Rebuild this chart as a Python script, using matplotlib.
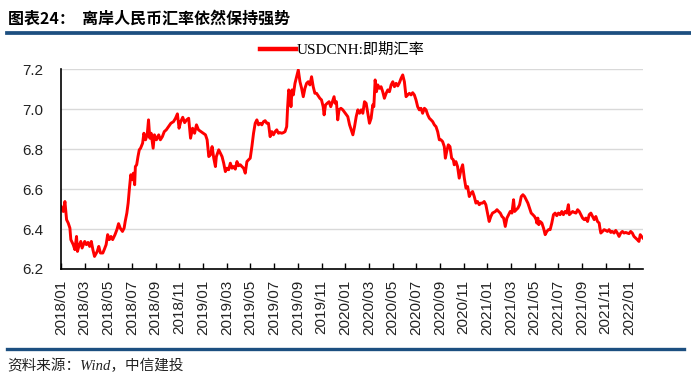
import numpy as np
import matplotlib
matplotlib.use('Agg')
import matplotlib.pyplot as plt
from matplotlib.lines import Line2D

# months since 2018/01
months = [
    0.00, 0.19, 0.33, 0.47, 0.61, 0.75, 0.83, 1.03, 1.17, 1.31, 1.39, 1.50, 1.67, 1.78,
    2.00, 2.14, 2.28, 2.42, 2.56, 2.69, 2.83, 3.06, 3.19, 3.33, 3.53, 3.67, 3.81, 3.94,
    4.08, 4.22, 4.36, 4.56, 4.72, 4.86, 5.00, 5.19, 5.33, 5.42, 5.56, 5.67, 5.78, 5.89,
    6.00, 6.11, 6.22, 6.28, 6.39, 6.50, 6.61, 6.72, 6.89, 7.00, 7.14, 7.28, 7.39, 7.50,
    7.61, 7.78, 7.89, 8.06, 8.25, 8.39, 8.56, 8.72, 8.89, 9.08, 9.28, 9.50, 9.67, 9.83,
    9.97, 10.11, 10.28, 10.44, 10.61, 10.78, 10.94, 11.11, 11.28, 11.44, 11.61,
    12.20, 12.34, 12.48, 12.62, 12.76, 12.90, 13.04, 13.12, 13.32, 13.46, 13.60, 13.74,
    13.88, 14.02, 14.16, 14.30, 14.44, 14.58, 14.72, 14.86, 15.00, 15.14, 15.28, 15.42,
    15.56, 15.70, 15.84, 15.98, 16.12, 16.26, 16.40, 16.54, 16.68, 16.82, 16.96, 17.10,
    17.24, 17.38, 17.52, 17.66, 17.80, 17.94, 18.08, 18.22, 18.36, 18.50, 18.64, 18.78,
    18.92, 19.06, 19.14, 19.23, 19.34, 19.42, 19.51, 19.62, 19.76, 19.90, 20.04, 20.18,
    20.32, 20.46, 20.60, 20.74, 20.88, 21.02, 21.16, 21.30, 21.44, 21.58, 21.72, 21.86,
    22.00, 22.14, 22.22, 22.34, 22.48, 22.64, 22.78, 22.92, 23.06, 23.15, 23.26, 23.37,
    23.48, 23.64, 23.80,
    24.22, 24.37, 24.51, 24.65, 24.79, 24.93, 25.07, 25.21, 25.35, 25.49, 25.63, 25.77,
    25.91, 26.05, 26.19, 26.33, 26.42, 26.53, 26.64, 26.75, 26.89, 27.03, 27.17, 27.31,
    27.46, 27.60, 27.74, 27.88, 28.02, 28.16, 28.30, 28.44, 28.58, 28.72, 28.86, 29.00,
    29.14, 29.28, 29.42, 29.56, 29.70, 29.84, 29.98, 30.12, 30.26, 30.40, 30.54, 30.69,
    30.83, 30.97, 31.11, 31.25, 31.39, 31.53, 31.67, 31.81, 31.95, 32.09, 32.23, 32.37,
    32.46, 32.57, 32.71, 32.85, 32.99, 33.13, 33.21, 33.35, 33.49, 33.63, 33.78, 33.92,
    34.06, 34.20, 34.34, 34.48, 34.62, 34.76, 34.90, 35.04, 35.18, 35.32, 35.46, 35.60,
    35.74, 35.88, 36.02, 36.16, 36.30, 36.44,
    36.68, 36.82, 36.96, 37.10, 37.24, 37.38, 37.52, 37.66, 37.80, 37.94, 38.08, 38.22,
    38.31, 38.45, 38.59, 38.73, 38.87, 39.01, 39.15, 39.29, 39.43, 39.57, 39.71, 39.85,
    39.99, 40.13, 40.18, 40.27, 40.35, 40.46, 40.61, 40.75, 40.89, 41.03, 41.17, 41.31,
    41.45, 41.59, 41.73, 41.87, 42.01, 42.15, 42.29, 42.43, 42.57, 42.71, 42.85, 42.93,
    43.07, 43.21, 43.35, 43.49, 43.63, 43.77, 43.91, 44.05, 44.19, 44.33, 44.47, 44.61,
    44.75, 44.89, 45.03, 45.17, 45.31, 45.45, 45.51, 45.59, 45.73, 45.87, 46.01, 46.15,
    46.29, 46.43, 46.57, 46.71, 46.85, 46.99, 47.13, 47.27, 47.41, 47.55, 47.69, 47.83,
    47.97, 48.11, 48.25, 48.39, 48.53, 48.67, 48.81, 48.92, 49.03, 49.15,
]

usdcnh = [
    6.513, 6.488, 6.538, 6.447, 6.430, 6.405, 6.347, 6.322, 6.297, 6.363, 6.288, 6.313, 6.338, 6.305,
    6.338, 6.322, 6.333, 6.313, 6.338, 6.297, 6.263, 6.288, 6.313, 6.280, 6.280, 6.300, 6.322, 6.372,
    6.347, 6.363, 6.347, 6.372, 6.397, 6.427, 6.405, 6.388, 6.405, 6.438, 6.480, 6.530, 6.605, 6.672,
    6.647, 6.680, 6.622, 6.713, 6.722, 6.763, 6.797, 6.805, 6.830, 6.880, 6.847, 6.872, 6.947, 6.855,
    6.880, 6.805, 6.872, 6.847, 6.872, 6.847, 6.863, 6.888, 6.897, 6.913, 6.930, 6.938, 6.955, 6.977,
    6.905, 6.938, 6.960, 6.933, 6.947, 6.955, 6.855, 6.905, 6.880, 6.922, 6.897,
    6.872, 6.847, 6.763, 6.772, 6.813, 6.755, 6.713, 6.763, 6.797, 6.780, 6.763, 6.730,
    6.688, 6.705, 6.697, 6.730, 6.705, 6.713, 6.700, 6.738, 6.717, 6.722, 6.713, 6.705,
    6.680, 6.738, 6.747, 6.755, 6.813, 6.880, 6.930, 6.947, 6.922, 6.930, 6.922, 6.938,
    6.943, 6.930, 6.930, 6.863, 6.888, 6.872, 6.888, 6.897, 6.880, 6.883, 6.880, 6.883,
    6.888, 6.913, 7.013, 7.097, 7.080, 7.013, 7.097, 7.072, 7.130, 7.163, 7.197, 7.138,
    7.105, 7.063, 7.105, 7.130, 7.138, 7.122, 7.163, 7.113, 7.080, 7.080, 7.067, 7.055,
    7.047, 7.013, 6.972, 7.022, 7.030, 7.038, 7.013, 7.038, 7.063, 7.030, 7.038, 6.947,
    6.997, 7.005, 6.997,
    6.963, 6.922, 6.897, 6.872, 6.913, 6.963, 6.997, 6.980, 6.997, 6.980, 7.038, 7.030,
    6.980, 6.930, 6.955, 7.022, 7.013, 7.147, 7.088, 7.122, 7.105, 7.113, 7.088, 7.055,
    7.080, 7.097, 7.088, 7.122, 7.138, 7.113, 7.130, 7.117, 7.133, 7.155, 7.172, 7.138,
    7.063, 7.072, 7.080, 7.072, 7.083, 7.072, 7.047, 7.013, 6.997, 7.005, 6.980, 7.005,
    6.997, 6.972, 6.955, 6.947, 6.938, 6.922, 6.913, 6.888, 6.847, 6.847, 6.838, 6.813,
    6.755, 6.788, 6.822, 6.813, 6.755, 6.747, 6.722, 6.738, 6.713, 6.655, 6.697, 6.722,
    6.655, 6.605, 6.613, 6.563, 6.580, 6.588, 6.563, 6.530, 6.538, 6.522, 6.530, 6.530,
    6.538, 6.522, 6.480, 6.438, 6.463, 6.480,
    6.488, 6.497, 6.488, 6.480, 6.463, 6.455, 6.413, 6.455, 6.472, 6.488, 6.480, 6.547,
    6.488, 6.497, 6.505, 6.522, 6.563, 6.572, 6.563, 6.547, 6.530, 6.505, 6.480, 6.472,
    6.463, 6.447, 6.430, 6.455, 6.422, 6.438, 6.430, 6.405, 6.372, 6.388, 6.397, 6.397,
    6.430, 6.472, 6.480, 6.467, 6.480, 6.472, 6.488, 6.472, 6.488, 6.480, 6.522, 6.472,
    6.480, 6.488, 6.483, 6.480, 6.497, 6.488, 6.472, 6.455, 6.447, 6.455, 6.438, 6.472,
    6.480, 6.463, 6.447, 6.463, 6.438, 6.430, 6.405, 6.380, 6.388, 6.397, 6.393, 6.388,
    6.397, 6.383, 6.388, 6.380, 6.393, 6.380, 6.363, 6.380, 6.388, 6.380, 6.383, 6.380,
    6.377, 6.388, 6.380, 6.363, 6.355, 6.347, 6.338, 6.372, 6.363, 6.355,
]

tick_months = list(range(0, 49, 2))
tick_labels = [f"{2018 + m // 12}/{m % 12 + 1:02d}" for m in tick_months]

title = '图表24：  离岸人民币汇率依然保持强势'
source = '资料来源：Wind，中信建投'
series_name = 'USDCNH:即期汇率'

cjk = ['Noto Sans CJK SC', 'DejaVu Sans']
serif_cjk = ['Liberation Serif', 'Noto Sans CJK SC']
plt.rcParams['font.family'] = ['Liberation Sans', 'Noto Sans CJK SC']

fig = plt.figure(figsize=(6.91, 3.81), dpi=100)
ax = fig.add_axes([0.0883, 0.294, 0.9305 - 0.0883, 0.818 - 0.294])

ax.plot(months, usdcnh, color='#ff0000', lw=2.1, solid_joinstyle='round')

ax.set_xlim(0, months[-1])
ax.set_ylim(6.2, 7.2)
ax.set_yticks(np.arange(6.2, 7.21, 0.2))
ax.set_yticklabels([f"{v:.1f}" for v in np.arange(6.2, 7.21, 0.2)])
ax.set_xticks(tick_months)
ax.set_xticklabels(tick_labels, rotation=90)

ax.grid(axis='y', color='#d9d9d9', lw=1)
ax.set_axisbelow(True)
for s in ['top', 'right']:
    ax.spines[s].set_visible(False)
for s in ['left', 'bottom']:
    ax.spines[s].set_color('black')
    ax.spines[s].set_linewidth(1.2)

ax.tick_params(axis='y', length=0, pad=13, labelsize=11, labelcolor='#222222')
ax.tick_params(axis='x', direction='in', length=4, width=1, pad=8, labelsize=11,
               labelcolor='#222222')

handle = Line2D([], [], color='#ff0000', lw=3.2)
fig.legend([handle], [series_name], loc='center', bbox_to_anchor=(0.496, 0.868),
           frameon=False, handlelength=2.3, handletextpad=0.1,
           prop={'family': serif_cjk, 'size': 11})

fig.text(0.012, 0.951, title, fontsize=11.5, fontweight='bold', family=cjk,
         va='center', ha='left', color='black')
fig.add_artist(Line2D([0.010, 1.0], [1 - 33.3 / 381] * 2, color='#1c4f80', lw=2.7))
fig.add_artist(Line2D([0.010, 0.99], [1 - 349 / 381] * 2, color='#1c4f80', lw=2.4))
fig.text(0.010, 1 - 365.5 / 381, source, fontsize=10.5, style='italic', family=serif_cjk,
         va='center', ha='left', color='#222222')

fig.savefig('out.png', dpi=100)
